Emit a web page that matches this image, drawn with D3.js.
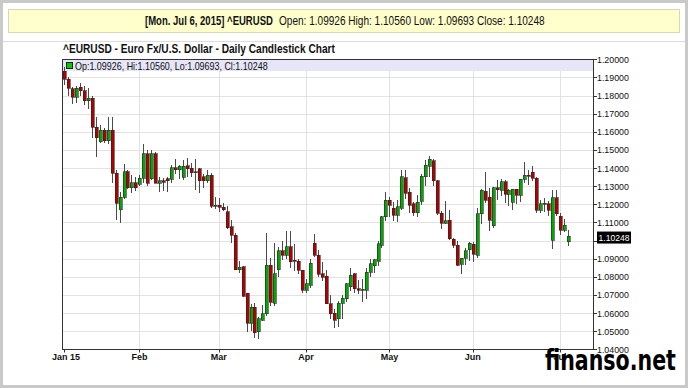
<!DOCTYPE html>
<html lang="en">
<head>
<meta charset="UTF-8">
<title>^EURUSD - Daily Candlestick Chart</title>
<script src="https://d3js.org/d3.v7.min.js"></script>
<style>
    body { margin: 0; background: #ffffff; }
    svg text { font-family: "Liberation Sans Narrow", "Arial Narrow", "Liberation Sans", Arial, sans-serif; fill: #111; }
</style>
</head>
<body>
<div id="chart"></div>
<script>
// trading days on the chart (no bar for Good Friday Apr 3 and Jul 3)
const dates = [
    "2015-01-06","2015-01-07","2015-01-08","2015-01-09","2015-01-12","2015-01-13","2015-01-14","2015-01-15","2015-01-16","2015-01-19",
    "2015-01-20","2015-01-21","2015-01-22","2015-01-23","2015-01-26","2015-01-27","2015-01-28","2015-01-29","2015-01-30",
    "2015-02-02","2015-02-03","2015-02-04","2015-02-05","2015-02-06","2015-02-09","2015-02-10","2015-02-11","2015-02-12","2015-02-13",
    "2015-02-16","2015-02-17","2015-02-18","2015-02-19","2015-02-20","2015-02-23","2015-02-24","2015-02-25","2015-02-26","2015-02-27",
    "2015-03-02","2015-03-03","2015-03-04","2015-03-05","2015-03-06","2015-03-09","2015-03-10","2015-03-11","2015-03-12","2015-03-13",
    "2015-03-16","2015-03-17","2015-03-18","2015-03-19","2015-03-20","2015-03-23","2015-03-24","2015-03-25","2015-03-26","2015-03-27",
    "2015-03-30","2015-03-31",
    "2015-04-01","2015-04-02","2015-04-06","2015-04-07","2015-04-08","2015-04-09","2015-04-10","2015-04-13","2015-04-14","2015-04-15",
    "2015-04-16","2015-04-17","2015-04-20","2015-04-21","2015-04-22","2015-04-23","2015-04-24","2015-04-27","2015-04-28","2015-04-29",
    "2015-04-30",
    "2015-05-01","2015-05-04","2015-05-05","2015-05-06","2015-05-07","2015-05-08","2015-05-11","2015-05-12","2015-05-13","2015-05-14",
    "2015-05-15","2015-05-18","2015-05-19","2015-05-20","2015-05-21","2015-05-22","2015-05-25","2015-05-26","2015-05-27","2015-05-28",
    "2015-05-29",
    "2015-06-01","2015-06-02","2015-06-03","2015-06-04","2015-06-05","2015-06-08","2015-06-09","2015-06-10","2015-06-11","2015-06-12",
    "2015-06-15","2015-06-16","2015-06-17","2015-06-18","2015-06-19","2015-06-22","2015-06-23","2015-06-24","2015-06-25","2015-06-26",
    "2015-06-29","2015-06-30",
    "2015-07-01","2015-07-02","2015-07-06"
];

const opens = [
    1.1933,1.1890,1.1838,1.1792,1.1845,1.1826,1.1772,1.1785,1.1626,1.1545,1.1608,1.1550,1.1608,1.1370,1.1170,1.1238,1.1380,1.1290,1.1320,
    1.1310,1.1345,1.1478,1.1340,1.1478,1.1316,1.1330,1.1340,1.1337,1.1402,1.1390,1.1350,1.1412,1.1400,1.1375,1.1395,1.1352,1.1330,1.1360,1.1190,
    1.1195,1.1185,1.1158,1.1075,1.1030,1.0840,1.0855,1.0709,1.0544,1.0633,1.0497,1.0560,1.0597,1.0863,1.0655,1.0840,1.0943,1.0920,1.0965,1.0890,1.0887,1.0836,
    1.0725,1.0753,1.0985,1.0920,1.0818,1.0804,1.0652,1.0600,1.0569,1.0653,1.0680,1.0744,1.0818,1.0735,1.0727,1.0727,1.0826,1.0860,1.0885,1.0974,1.1130,
    1.1223,1.1177,1.1140,1.1177,1.1346,1.1267,1.1202,1.1154,1.1217,1.1351,1.1410,1.1440,1.1330,1.1150,1.1095,1.1112,1.1006,1.0975,1.0868,1.0901,1.0950,
    1.0980,1.0919,1.1149,1.1273,1.1238,1.1081,1.1291,1.1278,1.1324,1.1255,1.1210,1.1282,1.1250,1.1337,1.1361,1.1376,1.1343,1.1168,1.1204,1.1204,1.1002,1.1236,
    1.1134,1.1057,1.09926
];
const highs = [
    1.1960,1.1900,1.1849,1.1850,1.1870,1.1850,1.1840,1.1800,1.1680,1.1640,1.1620,1.1680,1.1680,1.1390,1.1270,1.1424,1.1387,1.1363,1.1350,
    1.1364,1.1534,1.1498,1.1498,1.1487,1.1350,1.1346,1.1349,1.1419,1.1450,1.1419,1.1445,1.1455,1.1430,1.1450,1.1400,1.1365,1.1389,1.1375,1.1240,
    1.1236,1.1208,1.1188,1.1114,1.1040,1.0888,1.0859,1.0712,1.0650,1.0657,1.0580,1.0643,1.1043,1.0905,1.0988,1.0963,1.1000,1.1052,1.1050,1.0980,1.0900,1.0840,
    1.0790,1.0900,1.1036,1.0950,1.0880,1.0840,1.0700,1.0625,1.0664,1.0700,1.0767,1.0848,1.0820,1.0781,1.0790,1.0848,1.0900,1.0900,1.0996,1.1135,1.1267,
    1.1242,1.1212,1.1226,1.1392,1.1391,1.1288,1.1210,1.1250,1.1365,1.1445,1.1467,1.1450,1.1336,1.1162,1.1218,1.1168,1.1015,1.0998,1.0905,1.0958,1.0990,
    1.0990,1.1181,1.1282,1.1380,1.1288,1.1295,1.1336,1.1340,1.1335,1.1286,1.1287,1.1285,1.1340,1.1436,1.1390,1.1410,1.1350,1.1225,1.1235,1.1220,1.1280,1.1278,
    1.1150,1.1120,1.10560
];
const lows = [
    1.1860,1.1800,1.1754,1.1760,1.1800,1.1750,1.1727,1.1567,1.1460,1.1540,1.1540,1.1535,1.1316,1.1114,1.1098,1.1227,1.1285,1.1262,1.1274,
    1.1301,1.1315,1.1300,1.1333,1.1315,1.1270,1.1275,1.1270,1.1315,1.1365,1.1340,1.1335,1.1350,1.1350,1.1277,1.1262,1.1292,1.1320,1.1180,1.1175,
    1.1160,1.1162,1.1063,1.0988,1.0837,1.0820,1.0690,1.0494,1.0500,1.0462,1.0457,1.0555,1.0585,1.0640,1.0640,1.0800,1.0890,1.0898,1.0850,1.0834,1.0815,1.0712,
    1.0710,1.0740,1.0910,1.0800,1.0775,1.0650,1.0565,1.0520,1.0521,1.0566,1.0660,1.0724,1.0710,1.0706,1.0660,1.0680,1.0800,1.0820,1.0860,1.0960,1.1110,
    1.1130,1.1108,1.1100,1.1170,1.1229,1.1150,1.1135,1.1128,1.1194,1.1302,1.1350,1.1302,1.1140,1.1062,1.1090,1.1004,1.0960,1.0860,1.0818,1.0867,1.0886,
    1.0883,1.0905,1.1090,1.1206,1.1050,1.1070,1.1225,1.1246,1.1205,1.1190,1.1170,1.1200,1.1210,1.1320,1.1305,1.1330,1.1150,1.1150,1.1160,1.1137,1.0955,1.1135,
    1.1030,1.1045,1.09693
];
const closes = [
    1.1890,1.1840,1.1792,1.1840,1.1826,1.1772,1.1785,1.1626,1.1567,1.1608,1.1550,1.1608,1.1370,1.1205,1.1238,1.1380,1.1290,1.1320,1.1290,
    1.1345,1.1478,1.1315,1.1478,1.1316,1.1330,1.1323,1.1330,1.1402,1.1390,1.1410,1.1410,1.1395,1.1375,1.1380,1.1330,1.1330,1.1360,1.1190,1.1195,
    1.1185,1.1170,1.1072,1.1030,1.0840,1.0853,1.0694,1.0544,1.0633,1.0490,1.0568,1.0597,1.0863,1.0660,1.0818,1.0943,1.0919,1.0965,1.0882,1.0885,1.0836,1.0725,
    1.0762,1.0876,1.0920,1.0815,1.0798,1.0652,1.0597,1.0560,1.0655,1.0681,1.0763,1.0808,1.0735,1.0727,1.0730,1.0826,1.0873,1.0893,1.0983,1.1130,1.1223,
    1.1195,1.1140,1.1186,1.1351,1.1260,1.1195,1.1154,1.1212,1.1355,1.1416,1.1448,1.1330,1.1150,1.1095,1.1110,1.1011,1.0975,1.0865,1.0901,1.0945,1.0985,
    1.0925,1.1149,1.1278,1.1223,1.1112,1.1291,1.1280,1.1324,1.1255,1.1278,1.1282,1.1250,1.1337,1.1361,1.1355,1.1343,1.1168,1.1204,1.1206,1.1168,1.1236,1.1147,
    1.1057,1.1084,1.10248
];

const yTicks = [1.04, 1.05, 1.06, 1.07, 1.08, 1.09, 1.10, 1.11, 1.12, 1.13, 1.14, 1.15, 1.16, 1.17, 1.18, 1.19, 1.20];
const monthTicks = ["2015-01-06", "2015-02-02", "2015-03-02", "2015-04-01", "2015-05-01", "2015-06-01", "2015-07-01"];
const monthLabels = ["Jan 15", "Feb", "Mar", "Apr", "May", "Jun", "Jul"];
const headerDate = "[Mon. Jul 6, 2015]";
const symbol = "^EURUSD";
const chartTitle = "^EURUSD - Euro Fx/U.S. Dollar - Daily Candlestick Chart";

const W = 688, H = 388;
const plot = { left: 62.5, right: 593.5, top: 59.5, bottom: 349.5 };

const candles = dates.map((d, i) => ({ date: d, open: opens[i], high: highs[i], low: lows[i], close: closes[i] }));
const last = candles[candles.length - 1];
const f5 = d3.format(".5f");

const svg = d3.select("#chart").append("svg")
    .attr("width", W)
    .attr("height", H);

// squeeze a text horizontally to a given width (narrow fonts are not installed)
function fitText(sel, x0, y0, width) {
    const w = sel.node().getComputedTextLength();
    sel.attr("x", 0).attr("y", 0)
        .attr("transform", `translate(${x0},${y0}) scale(${Math.min(1, width / w)},1)`);
    return sel;
}

// outer frame
svg.append("rect")
    .attr("x", 1.5).attr("y", 1.5)
    .attr("width", W - 3).attr("height", H - 3)
    .attr("fill", "#fff")
    .attr("stroke", "#c9c9c9")
    .attr("stroke-width", 3);

// quote header
svg.append("rect")
    .attr("x", 8.5).attr("y", 9.5)
    .attr("width", 671).attr("height", 23)
    .attr("fill", "#ffffcc")
    .attr("stroke", "#d6d6b8");

fitText(svg.append("text")
    .style("font-size", "12px")
    .style("font-weight", "bold")
    .text(`${headerDate} ${symbol}`), 145, 25, 128);
fitText(svg.append("text")
    .style("font-size", "12px")
    .text(`Open: ${f5(last.open)} High: ${f5(last.high)} Low: ${f5(last.low)} Close: ${f5(last.close)}`), 279, 25, 266);

svg.append("line")
    .attr("x1", 3).attr("x2", W - 3)
    .attr("y1", 41.5).attr("y2", 41.5)
    .attr("stroke", "#dcdcdc");

fitText(svg.append("text")
    .style("font-size", "12px")
    .style("font-weight", "bold")
    .text(chartTitle), 63, 53, 272);

// scales
const x = d3.scalePoint().domain(dates).range([64, 568]);
const y = d3.scaleLinear().domain([1.04, 1.20]).range([349.3, 59.3]);

// grid
svg.append("g").selectAll("line")
    .data(yTicks.slice(1, -1))
    .join("line")
    .attr("x1", plot.left).attr("x2", plot.right)
    .attr("y1", d => Math.round(y(d)) + 0.5).attr("y2", d => Math.round(y(d)) + 0.5)
    .attr("stroke", "#e2e2e2");

svg.append("g").selectAll("line")
    .data(monthTicks.slice(1))
    .join("line")
    .attr("x1", d => Math.round(x(d)) + 0.5).attr("x2", d => Math.round(x(d)) + 0.5)
    .attr("y1", plot.top).attr("y2", plot.bottom)
    .attr("stroke", "#e2e2e2");

// legend band
svg.append("rect")
    .attr("x", plot.left + 0.5).attr("y", 60)
    .attr("width", plot.right - plot.left - 1).attr("height", 11)
    .attr("fill", "#e6e6f8");
svg.append("rect")
    .attr("x", 66.5).attr("y", 62.5)
    .attr("width", 6).attr("height", 6)
    .attr("fill", "#00cc00")
    .attr("stroke", "#222");
fitText(svg.append("text")
    .style("font-size", "10px")
    .text(`Op:${f5(last.open)}, Hi:${f5(last.high)}, Lo:${f5(last.low)}, Cl:${f5(last.close)}`), 75, 69.5, 193);

// candles
const g = svg.append("g").attr("shape-rendering", "crispEdges");

g.selectAll(".wick")
    .data(candles)
    .join("line")
    .attr("class", "wick")
    .attr("x1", d => Math.round(x(d.date)) + 0.5)
    .attr("x2", d => Math.round(x(d.date)) + 0.5)
    .attr("y1", d => y(d.high))
    .attr("y2", d => y(d.low))
    .attr("stroke", "#4a4a4a");

g.selectAll(".body")
    .data(candles)
    .join("rect")
    .attr("class", "body")
    .attr("x", d => Math.round(x(d.date)) - 1)
    .attr("y", d => y(Math.max(d.open, d.close)))
    .attr("width", 3)
    .attr("height", d => Math.max(1, Math.abs(y(d.open) - y(d.close))))
    .attr("fill", d => d.close >= d.open ? "#00a800" : "#b00000")
    .attr("stroke", "#262626")
    .attr("stroke-width", 0.6);

// plot frame
svg.append("rect")
    .attr("x", plot.left).attr("y", plot.top)
    .attr("width", plot.right - plot.left).attr("height", plot.bottom - plot.top)
    .attr("fill", "none")
    .attr("stroke", "#333");

// right price axis
const yAxis = svg.append("g");
yAxis.selectAll("line")
    .data(yTicks)
    .join("line")
    .attr("x1", plot.right).attr("x2", plot.right + 3.5)
    .attr("y1", d => Math.round(y(d)) + 0.5).attr("y2", d => Math.round(y(d)) + 0.5)
    .attr("stroke", "#333");
yAxis.selectAll("text")
    .data(yTicks.filter(d => Math.abs(y(d) - y(last.close)) > 8))
    .join("text")
    .style("font-size", "9px")
    .text(d => f5(d))
    .each(function (d) { fitText(d3.select(this), 597, y(d) + 3.5, 32); });

// last price marker
svg.append("rect")
    .attr("x", 597).attr("y", y(last.close) - 4.5)
    .attr("width", 34).attr("height", 12)
    .attr("fill", "#000");
fitText(svg.append("text")
    .style("font-size", "9px")
    .style("fill", "#fff")
    .text(f5(last.close)), 598.5, y(last.close) + 5, 31);

// month axis
const xAxis = svg.append("g");
xAxis.selectAll("line")
    .data(monthTicks)
    .join("line")
    .attr("x1", d => Math.round(x(d)) + 0.5).attr("x2", d => Math.round(x(d)) + 0.5)
    .attr("y1", plot.bottom).attr("y2", plot.bottom + 3)
    .attr("stroke", "#333");
xAxis.selectAll("text")
    .data(monthTicks)
    .join("text")
    .attr("x", (d, i) => x(d) + (i === 0 ? 2 : 0))
    .attr("y", 360)
    .attr("text-anchor", "middle")
    .style("font-size", "9px")
    .style("font-weight", "bold")
    .text((d, i) => monthLabels[i]);

// watermark
fitText(svg.append("text")
    .style("font-family", "'DejaVu Sans', sans-serif")
    .style("font-size", "28px")
    .style("font-weight", "bold")
    .style("fill", "#000")
    .text("finanso.net"), 545, 370, 131);
</script>
</body>
</html>
